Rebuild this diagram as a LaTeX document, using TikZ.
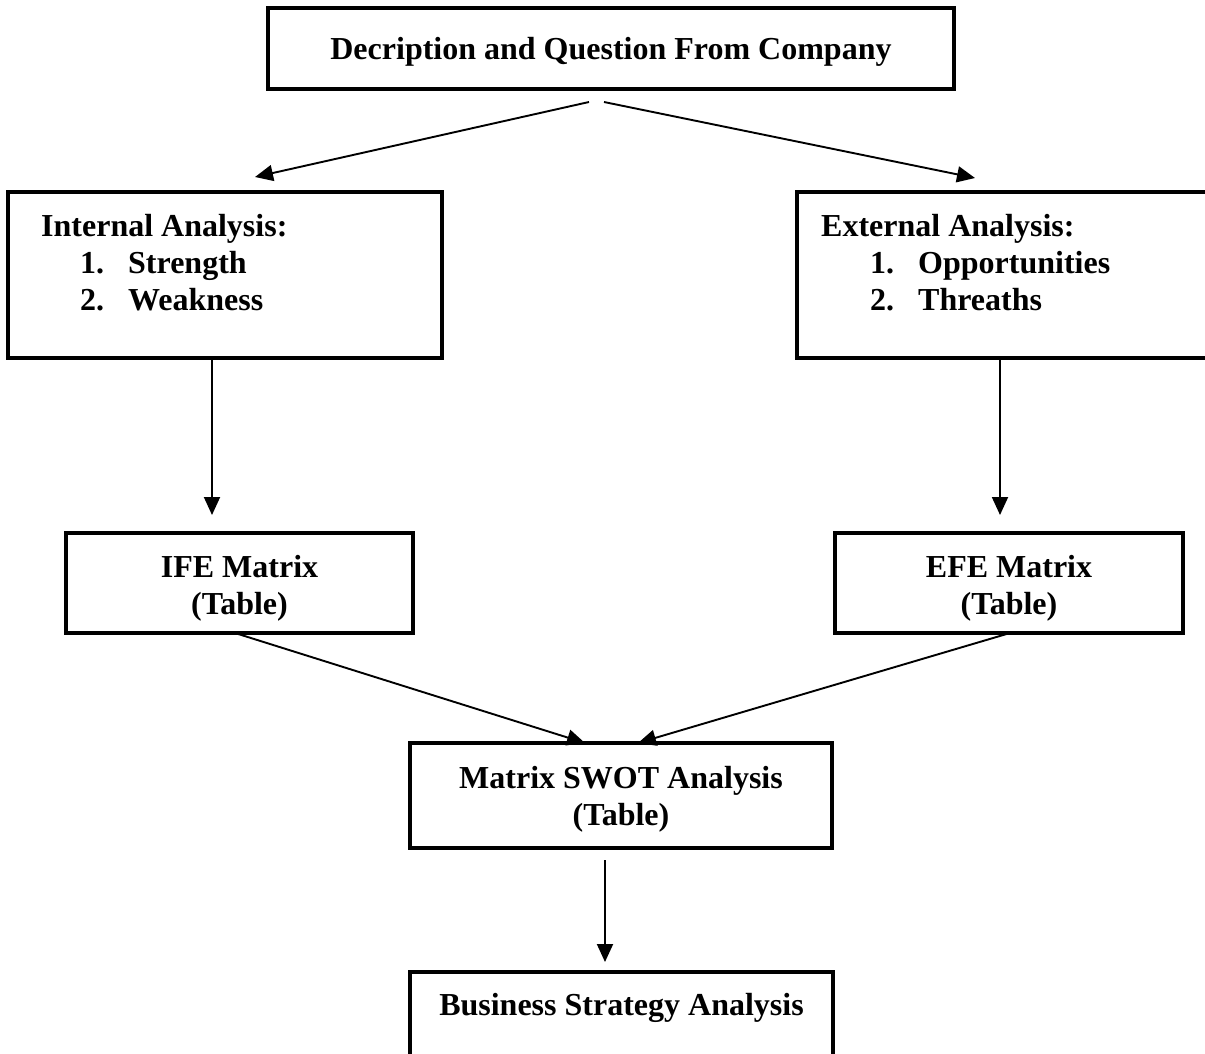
\documentclass[tikz,border=0pt]{standalone}
\usepackage{fontspec}
\setmainfont{Liberation Serif}
\usetikzlibrary{arrows.meta}
\begin{document}
\begin{tikzpicture}[x=1pt,y=-1pt,
  box/.style={draw, line width=3.5pt, rectangle, inner sep=0pt, outer sep=0pt},
  lbl/.style={inner sep=0pt, anchor=base, font=\fontsize{32}{37}\selectfont\bfseries},
  lbll/.style={lbl, anchor=base west},
  conn/.style={line width=1.9pt, -{Triangle[length=18pt,width=16pt]}}]
\clip (0,0) rectangle (1205,1053);
\fill[white] (0,0) rectangle (1205,1053);
% boxes
\node[box, minimum width=686pt, minimum height=81pt] (top) at (611,48.5) {};
\node[box, minimum width=434pt, minimum height=166pt] (int) at (225,275) {};
\node[box, minimum width=428pt, minimum height=166pt] (ext) at (1011,275) {};
\node[box, minimum width=347pt, minimum height=100pt] (ife) at (239.5,583) {};
\node[box, minimum width=348pt, minimum height=100pt] (efe) at (1009,583) {};
\node[box, minimum width=422pt, minimum height=105pt] (swot) at (621,795.5) {};
\node[box, minimum width=423pt, minimum height=100pt] (bus) at (621.5,1022) {};
% texts
\node[lbl] (ttop) at (611,59) {Decription and Question From Company};
\node[lbll] (ti0) at (41,236) {Internal Analysis:};
\node[lbll] (ti1n) at (80,273) {1.};
\node[lbll] (ti1) at (128,273) {Strength};
\node[lbll] (ti2n) at (80,310) {2.};
\node[lbll] (ti2) at (128,310) {Weakness};
\node[lbll] (te0) at (821,236) {External Analysis:};
\node[lbll] (te1n) at (870,273) {1.};
\node[lbll] (te1) at (918,273) {Opportunities};
\node[lbll] (te2n) at (870,310) {2.};
\node[lbll] (te2) at (918,310) {Threaths};
\node[lbl] (tife1) at (239.5,577) {IFE Matrix};
\node[lbl] (tife2) at (239.5,614) {(Table)};
\node[lbl] (tefe1) at (1009,577) {EFE Matrix};
\node[lbl] (tefe2) at (1009,614) {(Table)};
\node[lbl] (tswot1) at (621,788) {Matrix SWOT Analysis};
\node[lbl] (tswot2) at (621,825) {(Table)};
\node[lbl] (tbus) at (621.5,1015) {Business Strategy Analysis};
% connector end points
\coordinate (a1) at (589,102); \coordinate (a2) at (255,177);
\coordinate (b1) at (604,102); \coordinate (b2) at (975,178);
\coordinate (c1) at (212,358); \coordinate (c2) at (212,515);
\coordinate (d1) at (1000,358); \coordinate (d2) at (1000,515);
\coordinate (e1) at (235,633); \coordinate (e2) at (585,743);
\coordinate (f1) at (1010,633); \coordinate (f2) at (638,743);
\coordinate (g1) at (605,860); \coordinate (g2) at (605,962);
\draw[conn] (a1) -- (a2);
\draw[conn] (b1) -- (b2);
\draw[conn] (c1) -- (c2);
\draw[conn] (d1) -- (d2);
\draw[conn] (e1) -- (e2);
\draw[conn] (f1) -- (f2);
\draw[conn] (g1) -- (g2);
\end{tikzpicture}
\end{document}
